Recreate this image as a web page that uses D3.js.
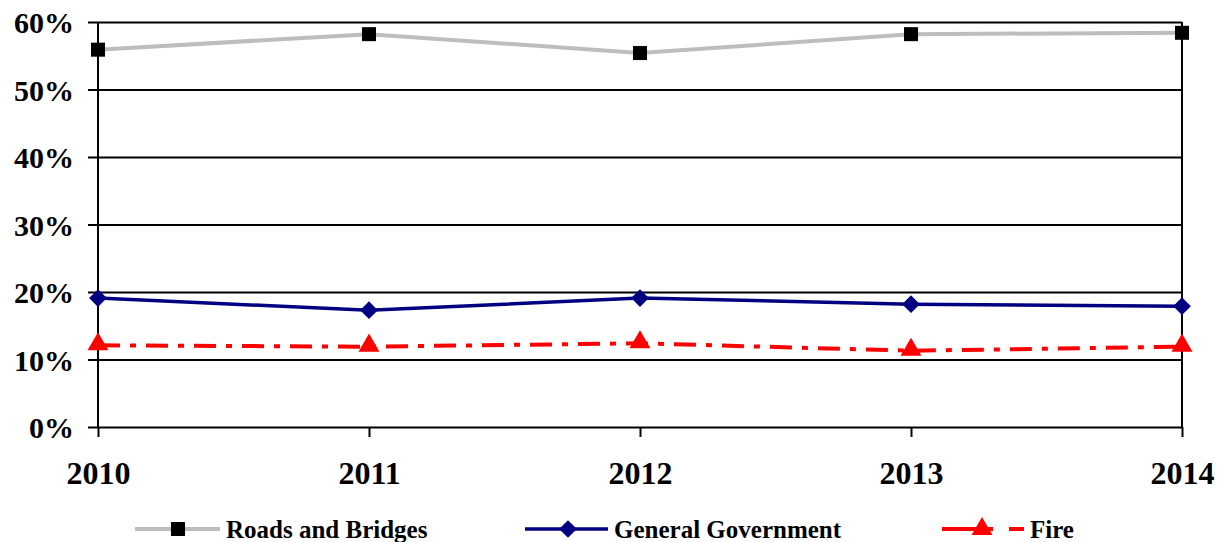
<!DOCTYPE html>
<html>
<head>
<meta charset="utf-8">
<script src="https://cdn.jsdelivr.net/npm/d3@7"></script>
<style>
  body { margin: 0; background: #fff; }
  text { font-family: "Liberation Serif", "Times New Roman", serif; font-weight: bold; }
</style>
</head>
<body>
<script>
const width = 1220;
const height = 542;

const years = ["2010", "2011", "2012", "2013", "2014"];
const roads = [55.9, 58.2, 55.4, 58.2, 58.4];
const general = [19.1, 17.3, 19.1, 18.2, 17.9];
const fire = [12.1, 11.9, 12.4, 11.3, 11.9];
const yTicks = [0, 10, 20, 30, 40, 50, 60];

const FONT = "'Liberation Serif', 'Times New Roman', serif";
const margin = {top: 22, right: 38, bottom: 115, left: 98};

const svg = d3.select("body").append("svg")
    .attr("width", width)
    .attr("height", height);

const x = d3.scalePoint()
    .domain(years)
    .range([margin.left, width - margin.right]);

const y = d3.scaleLinear()
    .domain([0, 60])
    .range([height - margin.bottom, margin.top]);

// gridlines + y labels
svg.append("g")
    .attr("transform", `translate(${margin.left},0)`)
    .call(d3.axisLeft(y).tickValues(yTicks).tickSize(10)
        .tickFormat(d => d + "%"))
    .attr("font-family", FONT)
    .call(g => g.select(".domain").remove())
    .call(g => g.selectAll(".tick line")
        .attr("x2", width - margin.right - margin.left)
        .attr("x1", -10)
        .attr("stroke", "#000").attr("stroke-width", 2))
    .call(g => g.selectAll(".tick text")
        .attr("x", -24).attr("dy", "0.36em")
        .attr("font-size", 30).attr("fill", "#000"));

// x axis ticks + labels
svg.append("g")
    .attr("transform", `translate(0,${height - margin.bottom})`)
    .call(d3.axisBottom(x).tickSize(10).tickPadding(24))
    .attr("font-family", FONT)
    .call(g => g.select(".domain").remove())
    .call(g => g.selectAll(".tick line").attr("stroke", "#000").attr("stroke-width", 2))
    .call(g => g.selectAll(".tick text")
        .attr("font-size", 32).attr("fill", "#000"));

// vertical borders
[margin.left, width - margin.right].forEach(xx => {
    svg.append("line")
        .attr("x1", xx).attr("x2", xx)
        .attr("y1", margin.top).attr("y2", height - margin.bottom)
        .attr("stroke", "#000").attr("stroke-width", 2);
});

const line = d3.line()
    .x((d, i) => x(years[i]))
    .y(d => y(d));

// roads and bridges
svg.append("path")
    .datum(roads)
    .attr("fill", "none")
    .attr("stroke", "#bdbdbd")
    .attr("stroke-width", 4)
    .attr("d", line);

svg.selectAll(".sq").data(roads).enter().append("rect")
    .attr("x", (d, i) => x(years[i]) - 7)
    .attr("y", d => y(d) - 7)
    .attr("width", 14).attr("height", 14)
    .attr("fill", "#000");

// general government
svg.append("path")
    .datum(general)
    .attr("fill", "none")
    .attr("stroke", "#000080")
    .attr("stroke-width", 3.5)
    .attr("d", line);

const diamond = d3.symbol().type(d3.symbolDiamond2).size(200);
svg.selectAll(".dm").data(general).enter().append("path")
    .attr("transform", (d, i) => `translate(${x(years[i])},${y(d)})`)
    .attr("d", diamond)
    .attr("fill", "#000080");

// fire
svg.append("path")
    .datum(fire)
    .attr("fill", "none")
    .attr("stroke", "#ff0000")
    .attr("stroke-width", 4)
    .attr("stroke-dasharray", "22,10,6,10")
    .attr("d", line);

const tri = d3.symbol().type(d3.symbolTriangle).size(190);
svg.selectAll(".tr").data(fire).enter().append("path")
    .attr("transform", (d, i) => `translate(${x(years[i])},${y(d) - 1})`)
    .attr("d", tri)
    .attr("fill", "#ff0000");

// legend
const ly = 529;
const legend = svg.append("g").attr("font-family", FONT);

legend.append("line")
    .attr("x1", 135).attr("x2", 220).attr("y1", ly).attr("y2", ly)
    .attr("stroke", "#bdbdbd").attr("stroke-width", 4);
legend.append("rect")
    .attr("x", 171).attr("y", ly - 7).attr("width", 14).attr("height", 14)
    .attr("fill", "#000");
legend.append("text")
    .attr("x", 226).attr("y", ly).attr("dy", "0.36em")
    .attr("font-size", 25).text("Roads and Bridges");

legend.append("line")
    .attr("x1", 525).attr("x2", 608).attr("y1", ly).attr("y2", ly)
    .attr("stroke", "#000080").attr("stroke-width", 3.5);
legend.append("path")
    .attr("transform", `translate(568,${ly})`)
    .attr("d", diamond).attr("fill", "#000080");
legend.append("text")
    .attr("x", 614).attr("y", ly).attr("dy", "0.36em")
    .attr("font-size", 25).text("General Government");

legend.append("line")
    .attr("x1", 942).attr("x2", 993).attr("y1", ly).attr("y2", ly)
    .attr("stroke", "#ff0000").attr("stroke-width", 4);
legend.append("line")
    .attr("x1", 1009).attr("x2", 1024).attr("y1", ly).attr("y2", ly)
    .attr("stroke", "#ff0000").attr("stroke-width", 4);
legend.append("path")
    .attr("transform", `translate(982,${ly})`)
    .attr("d", tri).attr("fill", "#ff0000");
legend.append("text")
    .attr("x", 1030).attr("y", ly).attr("dy", "0.36em")
    .attr("font-size", 25).text("Fire");
</script>
</body>
</html>
